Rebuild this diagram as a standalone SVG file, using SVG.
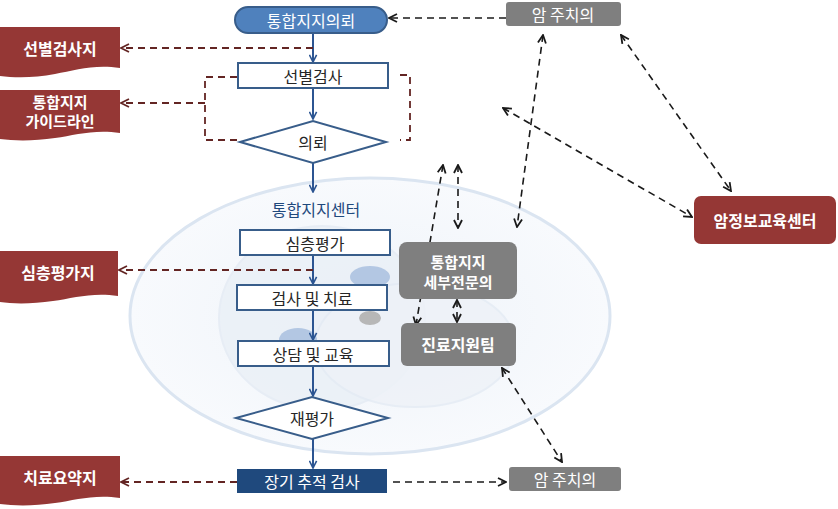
<svg xmlns="http://www.w3.org/2000/svg" width="838" height="509" viewBox="0 0 838 509">
<style>
.t{font-family:"Noto Sans CJK KR","Noto Sans",sans-serif;font-size:16px;text-anchor:middle;dominant-baseline:central}
.w{fill:#fff;font-weight:bold}
.n{font-weight:normal}
.d{fill:#262626}
.box{fill:#fff;stroke:#385d8a;stroke-width:2}
.doc{fill:#953735}
.gray{fill:#7f7f7f}
.flow{stroke:#2c5592;stroke-width:2;fill:none;marker-end:url(#fa)}
.rd{stroke:#632523;stroke-width:1.8;stroke-dasharray:7,5;fill:none}
.bd{stroke:#1a1a1a;stroke-width:1.6;stroke-dasharray:7,5;fill:none}
</style>
<defs>
<marker id="fa" viewBox="0 0 10 10" refX="9" refY="5" markerWidth="9" markerHeight="9" markerUnits="userSpaceOnUse" orient="auto"><path d="M1,1 L9,5 L1,9" fill="none" stroke="#2c5592" stroke-width="1.8"/></marker>
<marker id="ra" viewBox="0 0 10 10" refX="9" refY="5" markerWidth="10" markerHeight="10" markerUnits="userSpaceOnUse" orient="auto-start-reverse"><path d="M1,1 L9,5 L1,9" fill="none" stroke="#632523" stroke-width="1.8"/></marker>
<marker id="ba" viewBox="0 0 10 10" refX="9" refY="5" markerWidth="10" markerHeight="10" markerUnits="userSpaceOnUse" orient="auto-start-reverse"><path d="M1,1 L9,5 L1,9" fill="none" stroke="#1a1a1a" stroke-width="1.8"/></marker>
<radialGradient id="eg" cx="0.5" cy="0.5" r="0.5"><stop offset="0" stop-color="#eef3f9"/><stop offset="1" stop-color="#f8fafd"/></radialGradient>
</defs>
<rect width="838" height="509" fill="#fff"/>
<g id="background">
<ellipse cx="370" cy="316" rx="240" ry="138" fill="url(#eg)" stroke="#dbe5f1" stroke-width="3"/>
<ellipse cx="322" cy="318" rx="103" ry="92" fill="#eaf0f7" stroke="#e4ebf4" stroke-width="2" opacity="0.8"/>
<ellipse cx="415" cy="345" rx="100" ry="62" fill="#eef2f8" stroke="#e4ebf4" stroke-width="2" opacity="0.8"/>
<ellipse cx="370" cy="277" rx="20" ry="11" fill="#b3c7e3"/>
<ellipse cx="370" cy="318" rx="11" ry="7" fill="#b7b7b7"/>
<ellipse cx="298" cy="340" rx="19" ry="12" fill="#b3c7e3"/>
</g>
<g id="connectors">
<line class="flow" x1="313" y1="33" x2="313" y2="62"/>
<line class="flow" x1="313" y1="88" x2="313" y2="119"/>
<line class="flow" x1="313" y1="163" x2="313" y2="192"/>
<line class="flow" x1="313" y1="255" x2="313" y2="284"/>
<line class="flow" x1="313" y1="310" x2="313" y2="340"/>
<line class="flow" x1="313" y1="366" x2="313" y2="396"/>
<line class="flow" x1="313" y1="439" x2="313" y2="468"/>
<path class="rd" d="M313,48 H121" marker-end="url(#ra)"/>
<path class="rd" d="M237,77 H205 V140 H240"/>
<path class="rd" d="M205,103 H121" marker-end="url(#ra)"/>
<path class="rd" d="M400,75 H410 V140 H400"/>
<path class="rd" d="M313,270 H119" marker-end="url(#ra)"/>
<path class="rd" d="M237,482 H121" marker-end="url(#ra)"/>
<path class="bd" d="M506,18 H389" marker-end="url(#ba)"/>
<path class="bd" d="M393,482 H506" marker-end="url(#ba)"/>
<path class="bd" d="M543,35 L517,227" marker-start="url(#ba)" marker-end="url(#ba)"/>
<path class="bd" d="M621,35 L731,191" marker-start="url(#ba)" marker-end="url(#ba)"/>
<path class="bd" d="M503,108 L692,217" marker-start="url(#ba)" marker-end="url(#ba)"/>
<path class="bd" d="M443,165 L416,325" marker-start="url(#ba)" marker-end="url(#ba)"/>
<path class="bd" d="M458,165 L458,228" marker-start="url(#ba)" marker-end="url(#ba)"/>
<path class="bd" d="M457,300 L457,322" marker-start="url(#ba)" marker-end="url(#ba)"/>
<path class="bd" d="M502,368 L562,462" marker-start="url(#ba)" marker-end="url(#ba)"/>
</g>
<g id="n-referral"><rect x="235" y="7" width="152" height="26" rx="13" fill="#4f81bd" stroke="#385d8a" stroke-width="2"/><text class="t w n" x="311" y="20">통합지지의뢰</text></g>
<g id="n-screen"><rect class="box" x="238" y="63" width="150" height="25"/><text class="t d" x="313" y="76">선별검사</text></g>
<g id="n-refer"><path class="box" d="M240,142 L313,121 L386,142 L313,163 Z"/><text class="t d" x="313" y="142">의뢰</text></g>
<g id="n-center"><text class="t" x="316" y="209" fill="#1f497d">통합지지센터</text></g>
<g id="n-deep"><rect class="box" x="240" y="230" width="150" height="25"/><text class="t d" x="315" y="243">심층평가</text></g>
<g id="n-test"><rect class="box" x="237" y="285" width="150" height="25"/><text class="t d" x="312" y="298">검사 및 치료</text></g>
<g id="n-counsel"><rect class="box" x="238" y="341" width="151" height="25"/><text class="t d" x="313" y="354">상담 및 교육</text></g>
<g id="n-reeval"><path class="box" d="M236,418 L312,397 L388,418 L312,439 Z"/><text class="t d" x="312" y="418">재평가</text></g>
<g id="n-followup"><rect x="237" y="469" width="150" height="24" fill="#1f497d"/><text class="t w n" x="312" y="481">장기 추적 검사</text></g>
<g id="n-doc1"><path class="doc" d="M0,27 H120 V68 C95,64 75,70 55,74 C35,78 15,78 0,76 Z"/><text class="t w" x="60" y="48">선별검사지</text></g>
<g id="n-doc2"><path class="doc" d="M0,90 H120 V133 C95,129 75,135 55,138 C35,141 15,141 0,139 Z"/><text class="t w" x="60" y="101" style="font-size:15px">통합지지</text><text class="t w" x="60" y="120" style="font-size:15px">가이드라인</text></g>
<g id="n-doc3"><path class="doc" d="M0,251 H118 V296 C93,292 73,298 53,301 C33,304 13,304 0,302 Z"/><text class="t w" x="58" y="272">심층평가지</text></g>
<g id="n-doc4"><path class="doc" d="M0,456 H120 V498 C95,494 75,500 55,503 C35,506 15,506 0,504 Z"/><text class="t w" x="60" y="477">치료요약지</text></g>
<g id="n-onc-top"><rect class="gray" x="506" y="2" width="115" height="24" rx="3"/><text class="t w n" x="563" y="14">암 주치의</text></g>
<g id="n-onc-bottom"><rect class="gray" x="509" y="467" width="112" height="24" rx="3"/><text class="t w n" x="565" y="479">암 주치의</text></g>
<g id="n-specialist"><rect class="gray" x="399" y="242" width="118" height="57" rx="8"/><text class="t w" x="458" y="261" style="font-size:15px">통합지지</text><text class="t w" x="458" y="281" style="font-size:15px">세부전문의</text></g>
<g id="n-team"><rect class="gray" x="401" y="323" width="115" height="43" rx="6"/><text class="t w" x="458" y="344">진료지원팀</text></g>
<g id="n-info"><rect class="doc" x="694" y="196" width="142" height="48" rx="7"/><text class="t w" x="765" y="220">암정보교육센터</text></g>
</svg>
